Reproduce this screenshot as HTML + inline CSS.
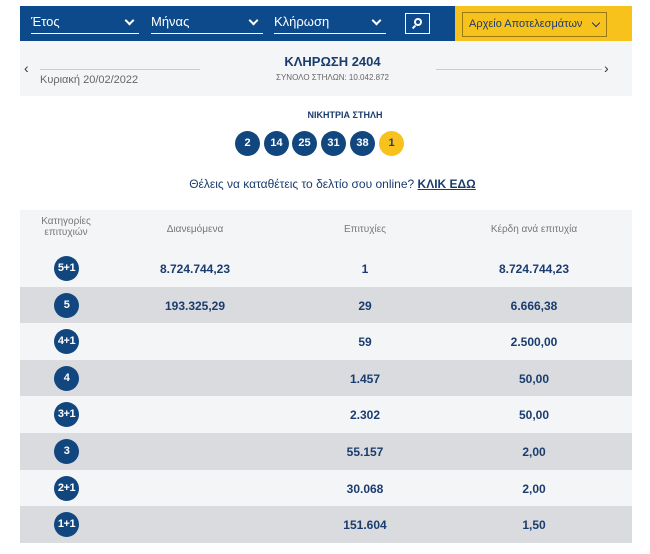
<!DOCTYPE html>
<html><head><meta charset="utf-8"><style>
*{margin:0;padding:0;box-sizing:border-box}
body{width:650px;height:554px;background:#fff;font-family:"Liberation Sans","DejaVu Sans",sans-serif;position:relative;overflow:hidden;color:#1a3c6e}
.a{position:absolute}
.bar{left:20px;top:6px;width:435px;height:35px;background:#0d4a8c}
.yel{left:455px;top:6px;width:177px;height:35px;background:#f7c21b}
.sel{top:14px;height:20px;border-bottom:1px solid #fff;color:#fff;font-size:13px}
.chev{position:absolute;right:6px;top:3px;width:7px;height:7px;border-right:2px solid #fff;border-bottom:2px solid #fff;transform:rotate(45deg)}
.ball{width:25px;height:25px;border-radius:50%;background:#11467f;color:#fff;font-weight:bold;font-size:11px;text-align:center;line-height:25px;top:131px}
.row{left:20px;width:612px;height:36.6px}
.cat{position:absolute;left:34px;width:25px;height:25px;border-radius:50%;background:#11467f;color:#fff;font-weight:bold;font-size:11px;text-align:center;line-height:25px;top:6px;letter-spacing:-0.5px}
.v{position:absolute;font-weight:bold;font-size:12px;color:#1a3c6e;top:12px;transform:translateX(-50%)}
.h{position:absolute;font-size:10px;color:#777;text-align:center;transform:translateX(-50%)}
</style></head><body>
<div class="a bar"></div>
<div class="a yel"></div>
<div class="a sel" style="left:31px;width:108px">Έτος<span class="chev"></span></div>
<div class="a sel" style="left:151px;width:112px">Μήνας<span class="chev"></span></div>
<div class="a sel" style="left:274px;width:112px">Κλήρωση<span class="chev"></span></div>
<div class="a" style="left:405px;top:13px;width:25px;height:21px;border:1px solid #fff"><div class="a" style="left:8px;top:4px;width:8px;height:8px;border:2px solid #fff;border-radius:50%"></div><div class="a" style="left:6px;top:12px;width:4px;height:2px;background:#fff;transform:rotate(-45deg)"></div></div>
<div class="a" style="left:462px;top:12px;width:145px;height:25px;border:1px solid #9a7a10;color:#1a3c6e;font-size:11px;line-height:23px;padding-left:6px">Αρχείο Αποτελεσμάτων<span style="position:absolute;right:7px;top:7px;width:6px;height:6px;border-right:1.5px solid #1a3c6e;border-bottom:1.5px solid #1a3c6e;transform:rotate(45deg)"></span></div>
<div class="a" style="left:20px;top:41px;width:612px;height:55px;background:#f4f5f7"></div>
<div class="a" style="left:24px;top:60px;font-size:14px;color:#333">‹</div>
<div class="a" style="left:604px;top:60px;font-size:14px;color:#333">›</div>
<div class="a" style="left:40px;top:69px;width:160px;height:1px;background:#ccc"></div>
<div class="a" style="left:436px;top:69px;width:166px;height:1px;background:#ccc"></div>
<div class="a" style="left:40px;top:74px;font-size:11px;color:#666">Κυριακή 20/02/2022</div>
<div class="a" style="left:0;width:650px;text-align:center;top:54px;font-size:13px;font-weight:bold;color:#1a3c6e;padding-left:15px">ΚΛΗΡΩΣΗ 2404</div>
<div class="a" style="left:0;width:650px;text-align:center;top:73px;font-size:8px;color:#666;padding-left:15px">ΣΥΝΟΛΟ ΣΤΗΛΩΝ: 10.042.872</div>
<div class="a" style="left:0;width:650px;text-align:center;top:110px;font-size:9px;font-weight:bold;color:#1a3c6e;padding-left:40px">ΝΙΚΗΤΡΙΑ ΣΤΗΛΗ</div>
<div class="a ball" style="left:235px">2</div>
<div class="a ball" style="left:264px">14</div>
<div class="a ball" style="left:292px">25</div>
<div class="a ball" style="left:321px">31</div>
<div class="a ball" style="left:350px">38</div>
<div class="a ball" style="left:379px;background:#f7c21b;color:#1a3c6e">1</div>
<div class="a" style="left:0;width:650px;text-align:center;top:177px;font-size:12px;color:#1a3c6e;padding-left:15px">Θέλεις να καταθέτεις το δελτίο σου online? <b style="text-decoration:underline">ΚΛΙΚ ΕΔΩ</b></div>
<div class="a" style="left:20px;top:210px;width:612px;height:40px;background:#f4f5f7"></div>
<div class="h" style="left:66px;top:216px">Κατηγορίες<br>επιτυχιών</div>
<div class="h" style="left:195px;top:224px">Διανεμόμενα</div>
<div class="h" style="left:365px;top:224px">Επιτυχίες</div>
<div class="h" style="left:534px;top:224px">Κέρδη ανά επιτυχία</div>

<div class="a row" style="top:250px;background:#f4f5f7"><div class="cat">5+1</div><div class="v" style="left:175px">8.724.744,23</div><div class="v" style="left:345px">1</div><div class="v" style="left:514px">8.724.744,23</div></div>
<div class="a row" style="top:286.6px;background:#d9dbde"><div class="cat">5</div><div class="v" style="left:175px">193.325,29</div><div class="v" style="left:345px">29</div><div class="v" style="left:514px">6.666,38</div></div>
<div class="a row" style="top:323.2px;background:#f4f5f7"><div class="cat">4+1</div><div class="v" style="left:345px">59</div><div class="v" style="left:514px">2.500,00</div></div>
<div class="a row" style="top:359.8px;background:#d9dbde"><div class="cat">4</div><div class="v" style="left:345px">1.457</div><div class="v" style="left:514px">50,00</div></div>
<div class="a row" style="top:396.4px;background:#f4f5f7"><div class="cat">3+1</div><div class="v" style="left:345px">2.302</div><div class="v" style="left:514px">50,00</div></div>
<div class="a row" style="top:433px;background:#d9dbde"><div class="cat">3</div><div class="v" style="left:345px">55.157</div><div class="v" style="left:514px">2,00</div></div>
<div class="a row" style="top:469.6px;background:#f4f5f7"><div class="cat">2+1</div><div class="v" style="left:345px">30.068</div><div class="v" style="left:514px">2,00</div></div>
<div class="a row" style="top:506.2px;background:#d9dbde"><div class="cat">1+1</div><div class="v" style="left:345px">151.604</div><div class="v" style="left:514px">1,50</div></div>
</body></html>
